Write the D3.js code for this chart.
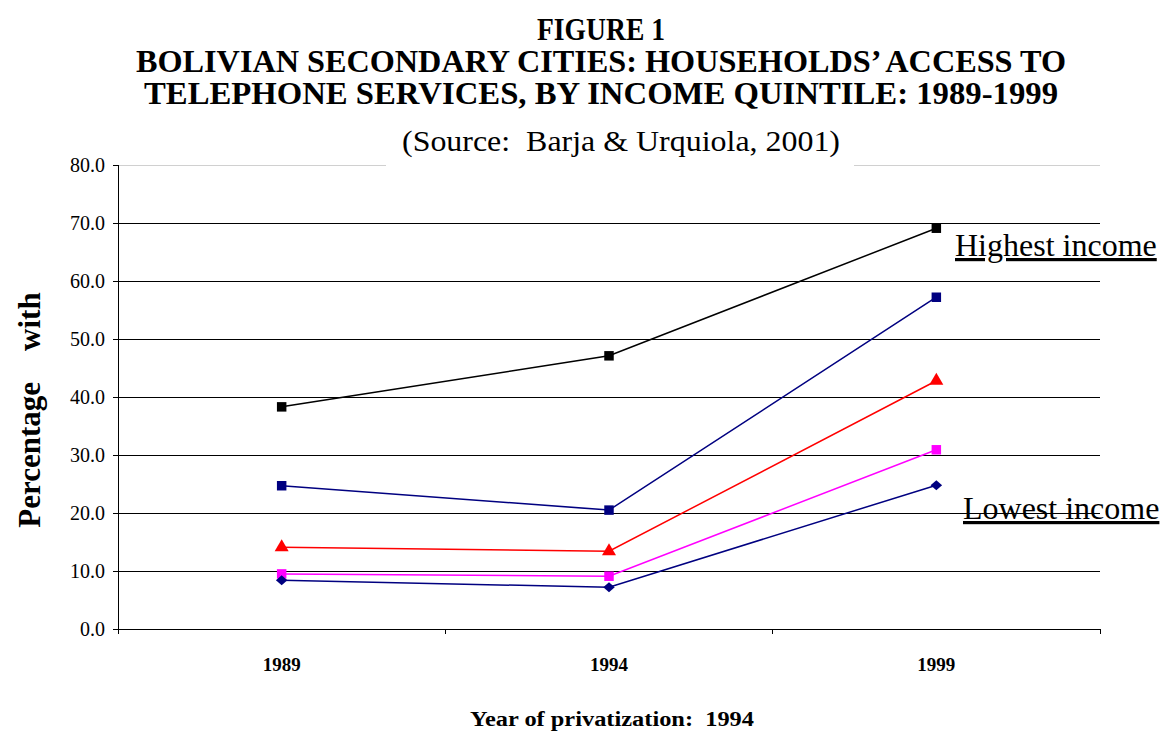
<!DOCTYPE html>
<html>
<head>
<meta charset="utf-8">
<script src="https://cdn.jsdelivr.net/npm/d3@7"></script>
<style>
  body { margin: 0; background: #fff; }
  text { font-family: "Liberation Serif", "Times New Roman", serif; }
</style>
</head>
<body>
<div class="chart"></div>
<script>
// data
var years = ["1989", "1994", "1999"];
var highest = [38.3, 47.1, 69.1];
var fourth = [24.7, 20.5, 57.2];
var third = [14.1, 13.4, 42.8];
var second = [9.5, 9.1, 30.9];
var lowest = [8.4, 7.2, 24.8];
var yTicks = [0, 10, 20, 30, 40, 50, 60, 70, 80];

var seriesList = [
  { name: "highest", values: highest, color: "#000000", shape: "square" },
  { name: "fourth", values: fourth, color: "#000080", shape: "square" },
  { name: "third", values: third, color: "#ff0000", shape: "triangle" },
  { name: "second", values: second, color: "#ff00ff", shape: "square" },
  { name: "lowest", values: lowest, color: "#000080", shape: "diamond" }
];

var svgWidth = 1163;
var svgHeight = 734;
var margin = { top: 165, right: 63, bottom: 105, left: 118 };
var width = svgWidth - margin.left - margin.right;
var height = svgHeight - margin.top - margin.bottom;

var svg = d3.select(".chart")
  .append("svg")
  .attr("width", svgWidth)
  .attr("height", svgHeight);

// titles
var titles = [
  { t: "FIGURE 1", y: 40, len: 128 },
  { t: "BOLIVIAN SECONDARY CITIES: HOUSEHOLDS\u2019 ACCESS TO", y: 72, len: 930 },
  { t: "TELEPHONE SERVICES, BY INCOME QUINTILE: 1989-1999", y: 104, len: 914 }
];
titles.forEach(function(d) {
  svg.append("text")
    .attr("x", 601)
    .attr("y", d.y)
    .attr("text-anchor", "middle")
    .attr("font-size", 31)
    .attr("font-weight", "bold")
    .attr("textLength", d.len)
    .attr("lengthAdjust", "spacingAndGlyphs")
    .text(d.t);
});

var chartGroup = svg.append("g")
  .attr("transform", `translate(${margin.left}, ${margin.top})`);

var xScale = d3.scaleBand()
  .domain(years)
  .range([0, width]);

var yScale = d3.scaleLinear()
  .domain([0, 80])
  .range([height, 0]);

// gridlines
chartGroup.selectAll(".grid")
  .data(yTicks.filter(d => d > 0))
  .enter()
  .append("line")
  .attr("x1", 0)
  .attr("x2", width)
  .attr("y1", d => yScale(d))
  .attr("y2", d => yScale(d))
  .attr("stroke", d => d === 80 ? "#d0d0d0" : "#000")
  .attr("stroke-width", 1)
  .attr("shape-rendering", "crispEdges");

// y axis
var leftAxis = d3.axisLeft(yScale)
  .tickValues(yTicks)
  .tickFormat(d3.format(".1f"))
  .tickSize(5)
  .tickPadding(8);
var yAxisG = chartGroup.append("g").call(leftAxis);
yAxisG.select(".domain").attr("stroke", "#000").attr("shape-rendering", "crispEdges");
yAxisG.selectAll(".tick line").attr("stroke", "#000").attr("shape-rendering", "crispEdges");
yAxisG.selectAll(".tick text")
  .attr("font-size", 20)
  .attr("fill", "#000");

// x axis: ticks on band edges, labels at band centres
var edges = years.map(d => xScale(d)).concat([width]);
var xAxisG = chartGroup.append("g")
  .attr("transform", `translate(0, ${height})`);
xAxisG.append("line")
  .attr("x1", 0).attr("x2", width)
  .attr("stroke", "#000")
  .attr("shape-rendering", "crispEdges");
xAxisG.selectAll(".edge")
  .data(edges)
  .enter()
  .append("line")
  .attr("x1", d => d).attr("x2", d => d)
  .attr("y1", 0).attr("y2", 5)
  .attr("stroke", "#000")
  .attr("shape-rendering", "crispEdges");
xAxisG.selectAll(".lbl")
  .data(years)
  .enter()
  .append("text")
  .attr("x", d => xScale(d) + xScale.bandwidth() / 2)
  .attr("y", 42)
  .attr("text-anchor", "middle")
  .attr("font-size", 19)
  .attr("font-weight", "bold")
  .attr("textLength", 38)
  .attr("lengthAdjust", "spacingAndGlyphs")
  .text(d => d);

// source line with white box over the top border
svg.append("rect")
  .attr("x", 386).attr("y", 122)
  .attr("width", 468).attr("height", 46)
  .attr("fill", "#fff");
svg.append("text")
  .attr("x", 621)
  .attr("y", 151)
  .attr("text-anchor", "middle")
  .attr("font-size", 29)
  .attr("textLength", 438)
  .attr("lengthAdjust", "spacingAndGlyphs")
  .style("white-space", "pre")
  .text("(Source:  Barja & Urquiola, 2001)");

// lines
var line = d3.line()
  .x((d, i) => xScale(years[i]) + xScale.bandwidth() / 2)
  .y(d => yScale(d));

seriesList.forEach(function(s) {
  chartGroup.append("path")
    .datum(s.values)
    .attr("d", line)
    .attr("fill", "none")
    .attr("stroke", s.color)
    .attr("stroke-width", 1.5);
});

// markers
var wideDiamond = {
  draw: function(context, size) {
    var r = Math.sqrt(size) / 2;
    context.moveTo(0, -r);
    context.lineTo(r * 1.15, 0);
    context.lineTo(0, r);
    context.lineTo(-r * 1.15, 0);
    context.closePath();
  }
};
var symbolType = {
  square: d3.symbolSquare,
  triangle: d3.symbolTriangle,
  diamond: wideDiamond
};
var symbolSize = { square: 90, triangle: 85, diamond: 100 };

seriesList.forEach(function(s) {
  chartGroup.selectAll(".m-" + s.name)
    .data(s.values)
    .enter()
    .append("path")
    .attr("transform", (d, i) => `translate(${xScale(years[i]) + xScale.bandwidth() / 2}, ${yScale(d)})`)
    .attr("d", d3.symbol().type(symbolType[s.shape]).size(symbolSize[s.shape]))
    .attr("fill", s.color);
});

// annotations
svg.append("text")
  .attr("x", 955)
  .attr("y", 256)
  .attr("font-size", 32)
  .attr("text-decoration", "underline")
  .attr("fill", "#000")
  .text("Highest income");

svg.append("text")
  .attr("x", 963)
  .attr("y", 519)
  .attr("font-size", 32)
  .attr("text-decoration", "underline")
  .attr("fill", "#000")
  .text("Lowest income");

// axis titles
svg.append("text")
  .attr("transform", "translate(40, 410) rotate(-90)")
  .attr("text-anchor", "middle")
  .attr("font-size", 31)
  .attr("font-weight", "bold")
  .style("white-space", "pre")
  .text("Percentage    with");

svg.append("text")
  .attr("x", 612)
  .attr("y", 726)
  .attr("text-anchor", "middle")
  .attr("font-size", 20)
  .attr("font-weight", "bold")
  .attr("textLength", 284)
  .attr("lengthAdjust", "spacingAndGlyphs")
  .style("white-space", "pre")
  .text("Year of privatization:  1994");
</script>
</body>
</html>
